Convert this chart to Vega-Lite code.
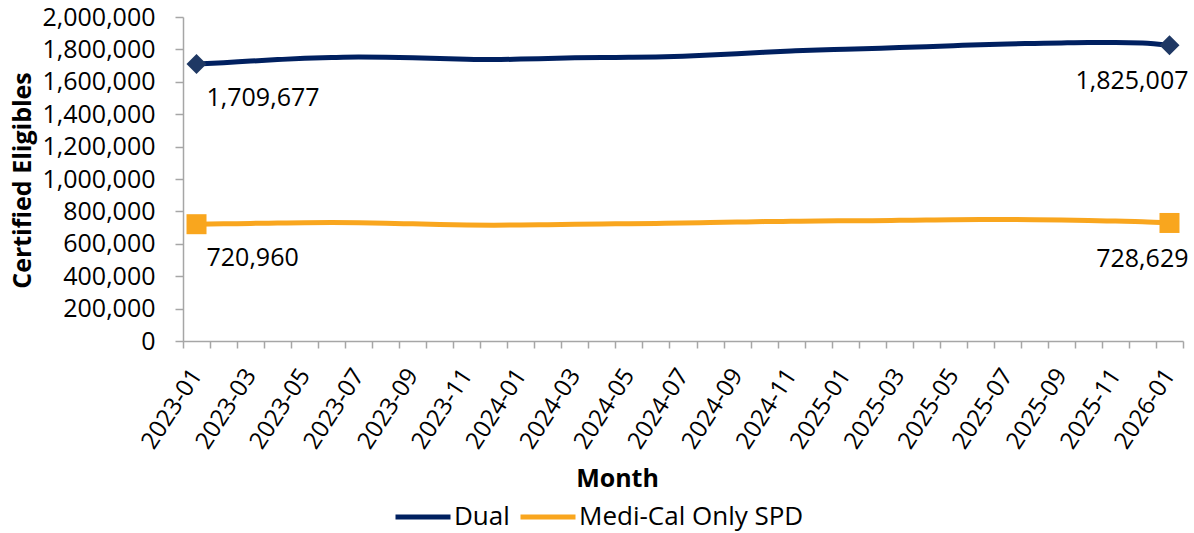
{
  "$schema": "https://vega.github.io/schema/vega-lite/v6.json",
  "width": 1000,
  "height": 324,
  "autosize": "none",
  "padding": {"left": 183, "top": 17, "right": 11, "bottom": 192},
  "background": "white",
  "config": {
    "font": "Open Sans",
    "view": {"stroke": null},
    "axis": {"labelFont": "Open Sans", "titleFont": "Open Sans", "labelColor": "#000000", "titleColor": "#000000"}
  },
  "data": {
    "values": [
      {"month": "2023-01", "series": "Dual", "value": 1709677},
      {"month": "2023-02", "series": "Dual", "value": 1718000},
      {"month": "2023-03", "series": "Dual", "value": 1728000},
      {"month": "2023-04", "series": "Dual", "value": 1737000},
      {"month": "2023-05", "series": "Dual", "value": 1745000},
      {"month": "2023-06", "series": "Dual", "value": 1750000},
      {"month": "2023-07", "series": "Dual", "value": 1753000},
      {"month": "2023-08", "series": "Dual", "value": 1752000},
      {"month": "2023-09", "series": "Dual", "value": 1749000},
      {"month": "2023-10", "series": "Dual", "value": 1744000},
      {"month": "2023-11", "series": "Dual", "value": 1739000},
      {"month": "2023-12", "series": "Dual", "value": 1737000},
      {"month": "2024-01", "series": "Dual", "value": 1740000},
      {"month": "2024-02", "series": "Dual", "value": 1744000},
      {"month": "2024-03", "series": "Dual", "value": 1748000},
      {"month": "2024-04", "series": "Dual", "value": 1750000},
      {"month": "2024-05", "series": "Dual", "value": 1751000},
      {"month": "2024-06", "series": "Dual", "value": 1753000},
      {"month": "2024-07", "series": "Dual", "value": 1758000},
      {"month": "2024-08", "series": "Dual", "value": 1765000},
      {"month": "2024-09", "series": "Dual", "value": 1773000},
      {"month": "2024-10", "series": "Dual", "value": 1782000},
      {"month": "2024-11", "series": "Dual", "value": 1790000},
      {"month": "2024-12", "series": "Dual", "value": 1797000},
      {"month": "2025-01", "series": "Dual", "value": 1801000},
      {"month": "2025-02", "series": "Dual", "value": 1806000},
      {"month": "2025-03", "series": "Dual", "value": 1811000},
      {"month": "2025-04", "series": "Dual", "value": 1817000},
      {"month": "2025-05", "series": "Dual", "value": 1823000},
      {"month": "2025-06", "series": "Dual", "value": 1829000},
      {"month": "2025-07", "series": "Dual", "value": 1834000},
      {"month": "2025-08", "series": "Dual", "value": 1837000},
      {"month": "2025-09", "series": "Dual", "value": 1840000},
      {"month": "2025-10", "series": "Dual", "value": 1842000},
      {"month": "2025-11", "series": "Dual", "value": 1842000},
      {"month": "2025-12", "series": "Dual", "value": 1839000},
      {"month": "2026-01", "series": "Dual", "value": 1825007},
      {"month": "2023-01", "series": "Medi-Cal Only SPD", "value": 720960},
      {"month": "2023-02", "series": "Medi-Cal Only SPD", "value": 723000},
      {"month": "2023-03", "series": "Medi-Cal Only SPD", "value": 726000},
      {"month": "2023-04", "series": "Medi-Cal Only SPD", "value": 728000},
      {"month": "2023-05", "series": "Medi-Cal Only SPD", "value": 730000},
      {"month": "2023-06", "series": "Medi-Cal Only SPD", "value": 731000},
      {"month": "2023-07", "series": "Medi-Cal Only SPD", "value": 730000},
      {"month": "2023-08", "series": "Medi-Cal Only SPD", "value": 727000},
      {"month": "2023-09", "series": "Medi-Cal Only SPD", "value": 723000},
      {"month": "2023-10", "series": "Medi-Cal Only SPD", "value": 719000},
      {"month": "2023-11", "series": "Medi-Cal Only SPD", "value": 716000},
      {"month": "2023-12", "series": "Medi-Cal Only SPD", "value": 715000},
      {"month": "2024-01", "series": "Medi-Cal Only SPD", "value": 716000},
      {"month": "2024-02", "series": "Medi-Cal Only SPD", "value": 718000},
      {"month": "2024-03", "series": "Medi-Cal Only SPD", "value": 720000},
      {"month": "2024-04", "series": "Medi-Cal Only SPD", "value": 722000},
      {"month": "2024-05", "series": "Medi-Cal Only SPD", "value": 724000},
      {"month": "2024-06", "series": "Medi-Cal Only SPD", "value": 726000},
      {"month": "2024-07", "series": "Medi-Cal Only SPD", "value": 728000},
      {"month": "2024-08", "series": "Medi-Cal Only SPD", "value": 731000},
      {"month": "2024-09", "series": "Medi-Cal Only SPD", "value": 734000},
      {"month": "2024-10", "series": "Medi-Cal Only SPD", "value": 737000},
      {"month": "2024-11", "series": "Medi-Cal Only SPD", "value": 739000},
      {"month": "2024-12", "series": "Medi-Cal Only SPD", "value": 741000},
      {"month": "2025-01", "series": "Medi-Cal Only SPD", "value": 742000},
      {"month": "2025-02", "series": "Medi-Cal Only SPD", "value": 743000},
      {"month": "2025-03", "series": "Medi-Cal Only SPD", "value": 745000},
      {"month": "2025-04", "series": "Medi-Cal Only SPD", "value": 747000},
      {"month": "2025-05", "series": "Medi-Cal Only SPD", "value": 749000},
      {"month": "2025-06", "series": "Medi-Cal Only SPD", "value": 750000},
      {"month": "2025-07", "series": "Medi-Cal Only SPD", "value": 750000},
      {"month": "2025-08", "series": "Medi-Cal Only SPD", "value": 749000},
      {"month": "2025-09", "series": "Medi-Cal Only SPD", "value": 747000},
      {"month": "2025-10", "series": "Medi-Cal Only SPD", "value": 744000},
      {"month": "2025-11", "series": "Medi-Cal Only SPD", "value": 740000},
      {"month": "2025-12", "series": "Medi-Cal Only SPD", "value": 736000},
      {"month": "2026-01", "series": "Medi-Cal Only SPD", "value": 728629}
    ]
  },
  "encoding": {
    "x": {
      "field": "month",
      "type": "ordinal",
      "sort": null,
      "scale": {"type": "band", "paddingInner": 0, "paddingOuter": 0},
      "axis": {
        "title": "Month",
        "titleFontSize": 25,
        "titleFontWeight": "bold",
        "titleX": 434,
        "titleY": 137,
        "titleAlign": "center",
        "titleBaseline": "middle",
        "labelAngle": -57,
        "labelAlign": "right",
        "labelBaseline": "middle",
        "labelFontSize": 24,
        "labelPadding": 23,
        "labelOverlap": false,
        "labelBound": false,
        "labelExpr": "toNumber(substring(datum.value, 5, 7)) % 2 == 1 ? datum.label : ''",
        "tickBand": "extent",
        "tickSize": 7,
        "tickColor": "#A6A6A6",
        "domainColor": "#A6A6A6",
        "tickWidth": 1.5,
        "domainWidth": 1.5,
        "grid": false
      }
    },
    "y": {
      "field": "value",
      "type": "quantitative",
      "scale": {"domain": [0, 2000000], "nice": false},
      "axis": {
        "title": "Certified Eligibles",
        "titleFontSize": 25,
        "titleFontWeight": "bold",
        "titleX": -161,
        "titleY": 163,
        "titleAngle": -90,
        "titleAlign": "center",
        "titleBaseline": "middle",
        "values": [0, 200000, 400000, 600000, 800000, 1000000, 1200000, 1400000, 1600000, 1800000, 2000000],
        "format": ",d",
        "labelFontSize": 25,
        "labelPadding": 20,
        "tickSize": 8,
        "tickColor": "#A6A6A6",
        "domainColor": "#A6A6A6",
        "tickWidth": 1.5,
        "domainWidth": 1.5,
        "grid": false
      }
    }
  },
  "layer": [
    {
      "mark": {"type": "line", "strokeWidth": 5, "interpolate": "monotone"},
      "encoding": {
        "color": {
          "field": "series",
          "type": "nominal",
          "scale": {"domain": ["Dual", "Medi-Cal Only SPD"], "range": ["#002060", "#F9A61E"]},
          "legend": {
            "title": null,
            "orient": "none",
            "direction": "horizontal",
            "legendX": 210,
            "legendY": 470,
            "symbolType": "stroke",
            "symbolSize": 3025,
            "symbolStrokeWidth": 5,
            "labelFontSize": 26,
            "labelFont": "Open Sans",
            "labelColor": "#000000",
            "labelLimit": 400,
            "labelOffset": 1,
            "columnPadding": 0,
            "labelBaseline": "middle"
          }
        }
      }
    },
    {
      "transform": [{"filter": "datum.series == 'Dual' && (datum.month == '2023-01' || datum.month == '2026-01')"}],
      "mark": {"type": "point", "shape": "diamond", "filled": true, "size": 400, "color": "#1F3864", "opacity": 1}
    },
    {
      "transform": [{"filter": "datum.series == 'Medi-Cal Only SPD' && (datum.month == '2023-01' || datum.month == '2026-01')"}],
      "mark": {"type": "point", "shape": "square", "filled": true, "size": 400, "color": "#F9A61E", "opacity": 1}
    },
    {
      "transform": [{"filter": "datum.month == '2023-01'"}],
      "mark": {"type": "text", "align": "left", "baseline": "middle", "dx": 10, "dy": 34, "fontSize": 25, "font": "Open Sans", "color": "#000000"},
      "encoding": {"text": {"field": "value", "type": "quantitative", "format": ","}}
    },
    {
      "transform": [{"filter": "datum.month == '2026-01'"}],
      "mark": {"type": "text", "align": "right", "baseline": "middle", "dx": 19, "dy": 36, "fontSize": 25, "font": "Open Sans", "color": "#000000"},
      "encoding": {"text": {"field": "value", "type": "quantitative", "format": ","}}
    }
  ]
}
